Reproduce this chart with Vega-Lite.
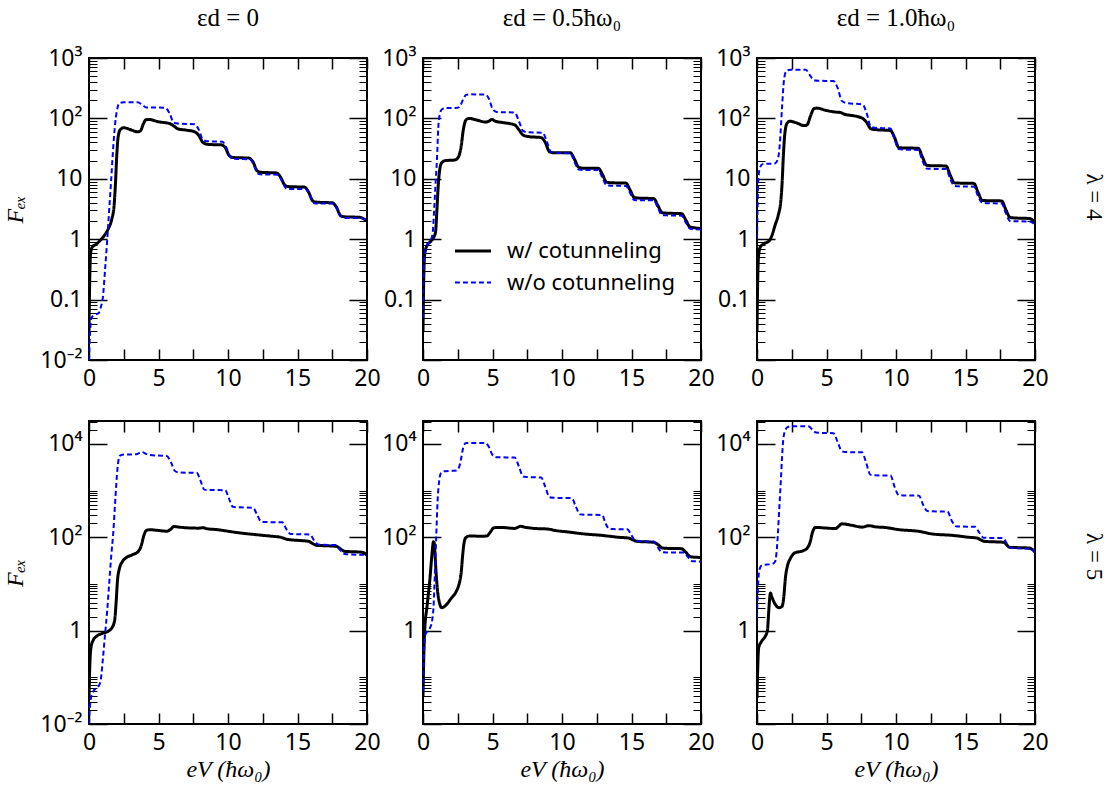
{
"$schema": "https://vega.github.io/schema/vega-lite/v6.json",
"padding": {"left": 2, "top": 5, "right": 5, "bottom": 5},
"background": "white",
"config": {
  "view": {"stroke": "black", "strokeWidth": 2},
  "axis": {"grid": false, "domain": false, "labelFont": "Noto Sans", "labelFontSize": 23, "labelColor": "black", "tickColor": "black", "titleColor": "black", "labelFlush": false, "labelOverlap": false, "labelBound": false, "titleFont": "Liberation Serif", "titleFontStyle": "italic", "titleFontWeight": "normal", "titleFontSize": 24},
  "title": {"font": "Liberation Serif", "fontSize": 25, "fontWeight": "normal", "color": "black"}
},
"datasets": {"d": [
{"p":"a","s":"w","x":0,"y":0.03},{"p":"a","s":"w","x":0.05,"y":0.2},{"p":"a","s":"w","x":0.12,"y":0.6},{"p":"a","s":"w","x":0.25,"y":0.75},{"p":"a","s":"w","x":0.5,"y":0.82},{"p":"a","s":"w","x":0.8,"y":0.95},{"p":"a","s":"w","x":1.1,"y":1.15},{"p":"a","s":"w","x":1.4,"y":1.5},{"p":"a","s":"w","x":1.65,"y":2.2},{"p":"a","s":"w","x":1.8,"y":3.5},{"p":"a","s":"w","x":1.9,"y":8},{"p":"a","s":"w","x":2.0,"y":25},{"p":"a","s":"w","x":2.1,"y":50},{"p":"a","s":"w","x":2.25,"y":65},{"p":"a","s":"w","x":2.5,"y":70},{"p":"a","s":"w","x":3.0,"y":65},{"p":"a","s":"w","x":3.5,"y":60},{"p":"a","s":"w","x":3.7,"y":62},{"p":"a","s":"w","x":3.9,"y":80},{"p":"a","s":"w","x":4.1,"y":95},{"p":"a","s":"w","x":4.3,"y":96},{"p":"a","s":"w","x":5.0,"y":88},{"p":"a","s":"w","x":5.8,"y":82},{"p":"a","s":"w","x":6.1,"y":75},{"p":"a","s":"w","x":6.4,"y":67},{"p":"a","s":"w","x":7.0,"y":64},{"p":"a","s":"w","x":7.6,"y":60},{"p":"a","s":"w","x":7.9,"y":52},{"p":"a","s":"w","x":8.2,"y":40},{"p":"a","s":"w","x":8.6,"y":37},{"p":"a","s":"w","x":9.5,"y":36.5},{"p":"a","s":"w","x":9.8,"y":33},{"p":"a","s":"w","x":10.1,"y":24},{"p":"a","s":"w","x":10.4,"y":22.5},{"p":"a","s":"w","x":11.5,"y":22},{"p":"a","s":"w","x":11.8,"y":19},{"p":"a","s":"w","x":12.1,"y":13.5},{"p":"a","s":"w","x":12.4,"y":12.8},{"p":"a","s":"w","x":13.5,"y":12.5},{"p":"a","s":"w","x":13.8,"y":10.5},{"p":"a","s":"w","x":14.1,"y":7.8},{"p":"a","s":"w","x":14.4,"y":7.4},{"p":"a","s":"w","x":15.5,"y":7.3},{"p":"a","s":"w","x":15.8,"y":6},{"p":"a","s":"w","x":16.1,"y":4.3},{"p":"a","s":"w","x":16.4,"y":4.1},{"p":"a","s":"w","x":17.5,"y":4.0},{"p":"a","s":"w","x":17.8,"y":3.4},{"p":"a","s":"w","x":18.1,"y":2.45},{"p":"a","s":"w","x":18.4,"y":2.35},{"p":"a","s":"w","x":19.5,"y":2.3},{"p":"a","s":"w","x":19.8,"y":2.15},{"p":"a","s":"w","x":20,"y":2.0},
{"p":"a","s":"wo","x":0,"y":0.01},{"p":"a","s":"wo","x":0.08,"y":0.03},{"p":"a","s":"wo","x":0.18,"y":0.05},{"p":"a","s":"wo","x":0.4,"y":0.056},{"p":"a","s":"wo","x":0.7,"y":0.06},{"p":"a","s":"wo","x":0.85,"y":0.075},{"p":"a","s":"wo","x":1.0,"y":0.11},{"p":"a","s":"wo","x":1.15,"y":0.3},{"p":"a","s":"wo","x":1.3,"y":0.9},{"p":"a","s":"wo","x":1.45,"y":3},{"p":"a","s":"wo","x":1.6,"y":10},{"p":"a","s":"wo","x":1.75,"y":35},{"p":"a","s":"wo","x":1.9,"y":90},{"p":"a","s":"wo","x":2.05,"y":150},{"p":"a","s":"wo","x":2.2,"y":180},{"p":"a","s":"wo","x":2.5,"y":185},{"p":"a","s":"wo","x":3.5,"y":185},{"p":"a","s":"wo","x":3.8,"y":170},{"p":"a","s":"wo","x":4.1,"y":152},{"p":"a","s":"wo","x":5.5,"y":150},{"p":"a","s":"wo","x":5.8,"y":120},{"p":"a","s":"wo","x":6.1,"y":85},{"p":"a","s":"wo","x":6.4,"y":82},{"p":"a","s":"wo","x":7.6,"y":80},{"p":"a","s":"wo","x":7.9,"y":65},{"p":"a","s":"wo","x":8.2,"y":44},{"p":"a","s":"wo","x":8.5,"y":42},{"p":"a","s":"wo","x":9.6,"y":41},{"p":"a","s":"wo","x":9.9,"y":32},{"p":"a","s":"wo","x":10.2,"y":22.5},{"p":"a","s":"wo","x":10.5,"y":21.5},{"p":"a","s":"wo","x":11.6,"y":21},{"p":"a","s":"wo","x":11.9,"y":16},{"p":"a","s":"wo","x":12.2,"y":12},{"p":"a","s":"wo","x":12.5,"y":11.8},{"p":"a","s":"wo","x":13.6,"y":11.7},{"p":"a","s":"wo","x":13.9,"y":9},{"p":"a","s":"wo","x":14.2,"y":6.9},{"p":"a","s":"wo","x":14.5,"y":6.8},{"p":"a","s":"wo","x":15.6,"y":6.8},{"p":"a","s":"wo","x":15.9,"y":5.3},{"p":"a","s":"wo","x":16.2,"y":3.95},{"p":"a","s":"wo","x":16.5,"y":3.9},{"p":"a","s":"wo","x":17.6,"y":3.9},{"p":"a","s":"wo","x":17.9,"y":3.0},{"p":"a","s":"wo","x":18.2,"y":2.3},{"p":"a","s":"wo","x":18.5,"y":2.25},{"p":"a","s":"wo","x":19.6,"y":2.25},{"p":"a","s":"wo","x":19.8,"y":2.15},{"p":"a","s":"wo","x":20,"y":2.05},
{"p":"b","s":"w","x":0,"y":0.03},{"p":"b","s":"w","x":0.05,"y":0.2},{"p":"b","s":"w","x":0.12,"y":0.55},{"p":"b","s":"w","x":0.25,"y":0.75},{"p":"b","s":"w","x":0.5,"y":0.9},{"p":"b","s":"w","x":0.75,"y":1.05},{"p":"b","s":"w","x":0.9,"y":1.3},{"p":"b","s":"w","x":1.0,"y":3},{"p":"b","s":"w","x":1.1,"y":8},{"p":"b","s":"w","x":1.2,"y":14},{"p":"b","s":"w","x":1.35,"y":18.5},{"p":"b","s":"w","x":1.6,"y":20},{"p":"b","s":"w","x":2.3,"y":20.5},{"p":"b","s":"w","x":2.55,"y":23},{"p":"b","s":"w","x":2.75,"y":35},{"p":"b","s":"w","x":2.9,"y":65},{"p":"b","s":"w","x":3.1,"y":95},{"p":"b","s":"w","x":3.3,"y":100},{"p":"b","s":"w","x":3.8,"y":95},{"p":"b","s":"w","x":4.5,"y":87},{"p":"b","s":"w","x":4.75,"y":90},{"p":"b","s":"w","x":4.95,"y":96},{"p":"b","s":"w","x":5.2,"y":90},{"p":"b","s":"w","x":5.8,"y":85},{"p":"b","s":"w","x":6.6,"y":78},{"p":"b","s":"w","x":6.9,"y":65},{"p":"b","s":"w","x":7.2,"y":53},{"p":"b","s":"w","x":7.6,"y":50},{"p":"b","s":"w","x":8.5,"y":48},{"p":"b","s":"w","x":8.8,"y":40},{"p":"b","s":"w","x":9.1,"y":28},{"p":"b","s":"w","x":9.4,"y":27},{"p":"b","s":"w","x":10.6,"y":27},{"p":"b","s":"w","x":10.9,"y":21},{"p":"b","s":"w","x":11.2,"y":15.5},{"p":"b","s":"w","x":11.5,"y":15},{"p":"b","s":"w","x":12.6,"y":15},{"p":"b","s":"w","x":12.9,"y":12},{"p":"b","s":"w","x":13.2,"y":8.8},{"p":"b","s":"w","x":13.5,"y":8.6},{"p":"b","s":"w","x":14.6,"y":8.5},{"p":"b","s":"w","x":14.9,"y":6.5},{"p":"b","s":"w","x":15.2,"y":4.9},{"p":"b","s":"w","x":15.5,"y":4.8},{"p":"b","s":"w","x":16.6,"y":4.7},{"p":"b","s":"w","x":16.9,"y":3.6},{"p":"b","s":"w","x":17.2,"y":2.75},{"p":"b","s":"w","x":17.5,"y":2.7},{"p":"b","s":"w","x":18.6,"y":2.65},{"p":"b","s":"w","x":18.9,"y":2.1},{"p":"b","s":"w","x":19.2,"y":1.6},{"p":"b","s":"w","x":19.5,"y":1.55},{"p":"b","s":"w","x":20,"y":1.5},
{"p":"b","s":"wo","x":0,"y":0.05},{"p":"b","s":"wo","x":0.05,"y":0.3},{"p":"b","s":"wo","x":0.15,"y":0.6},{"p":"b","s":"wo","x":0.3,"y":0.8},{"p":"b","s":"wo","x":0.55,"y":0.95},{"p":"b","s":"wo","x":0.7,"y":1.3},{"p":"b","s":"wo","x":0.8,"y":3},{"p":"b","s":"wo","x":0.9,"y":8},{"p":"b","s":"wo","x":1.0,"y":20},{"p":"b","s":"wo","x":1.1,"y":70},{"p":"b","s":"wo","x":1.2,"y":115},{"p":"b","s":"wo","x":1.35,"y":140},{"p":"b","s":"wo","x":1.6,"y":148},{"p":"b","s":"wo","x":2.5,"y":150},{"p":"b","s":"wo","x":2.7,"y":165},{"p":"b","s":"wo","x":2.9,"y":210},{"p":"b","s":"wo","x":3.1,"y":245},{"p":"b","s":"wo","x":3.3,"y":250},{"p":"b","s":"wo","x":4.5,"y":248},{"p":"b","s":"wo","x":4.75,"y":210},{"p":"b","s":"wo","x":5.0,"y":145},{"p":"b","s":"wo","x":5.3,"y":128},{"p":"b","s":"wo","x":6.6,"y":125},{"p":"b","s":"wo","x":6.9,"y":90},{"p":"b","s":"wo","x":7.2,"y":62},{"p":"b","s":"wo","x":7.5,"y":59},{"p":"b","s":"wo","x":8.6,"y":58},{"p":"b","s":"wo","x":8.9,"y":42},{"p":"b","s":"wo","x":9.2,"y":28},{"p":"b","s":"wo","x":9.5,"y":27},{"p":"b","s":"wo","x":10.6,"y":26.5},{"p":"b","s":"wo","x":10.9,"y":19},{"p":"b","s":"wo","x":11.2,"y":14.2},{"p":"b","s":"wo","x":11.5,"y":14},{"p":"b","s":"wo","x":12.6,"y":14},{"p":"b","s":"wo","x":12.9,"y":10.5},{"p":"b","s":"wo","x":13.2,"y":7.8},{"p":"b","s":"wo","x":13.5,"y":7.7},{"p":"b","s":"wo","x":14.6,"y":7.6},{"p":"b","s":"wo","x":14.9,"y":5.8},{"p":"b","s":"wo","x":15.2,"y":4.45},{"p":"b","s":"wo","x":15.5,"y":4.4},{"p":"b","s":"wo","x":16.6,"y":4.4},{"p":"b","s":"wo","x":16.9,"y":3.3},{"p":"b","s":"wo","x":17.2,"y":2.5},{"p":"b","s":"wo","x":17.5,"y":2.48},{"p":"b","s":"wo","x":18.6,"y":2.45},{"p":"b","s":"wo","x":18.9,"y":1.9},{"p":"b","s":"wo","x":19.2,"y":1.5},{"p":"b","s":"wo","x":19.5,"y":1.46},{"p":"b","s":"wo","x":20,"y":1.45},
{"p":"c","s":"w","x":0,"y":0.03},{"p":"c","s":"w","x":0.05,"y":0.2},{"p":"c","s":"w","x":0.12,"y":0.55},{"p":"c","s":"w","x":0.25,"y":0.75},{"p":"c","s":"w","x":0.55,"y":0.85},{"p":"c","s":"w","x":0.9,"y":0.95},{"p":"c","s":"w","x":1.1,"y":1.2},{"p":"c","s":"w","x":1.3,"y":1.7},{"p":"c","s":"w","x":1.55,"y":2.6},{"p":"c","s":"w","x":1.7,"y":4},{"p":"c","s":"w","x":1.8,"y":8},{"p":"c","s":"w","x":1.9,"y":25},{"p":"c","s":"w","x":2.0,"y":55},{"p":"c","s":"w","x":2.15,"y":82},{"p":"c","s":"w","x":2.35,"y":90},{"p":"c","s":"w","x":2.8,"y":85},{"p":"c","s":"w","x":3.4,"y":76},{"p":"c","s":"w","x":3.6,"y":78},{"p":"c","s":"w","x":3.85,"y":110},{"p":"c","s":"w","x":4.1,"y":145},{"p":"c","s":"w","x":4.3,"y":148},{"p":"c","s":"w","x":5.0,"y":135},{"p":"c","s":"w","x":5.7,"y":127},{"p":"c","s":"w","x":6.0,"y":125},{"p":"c","s":"w","x":6.3,"y":117},{"p":"c","s":"w","x":7.0,"y":110},{"p":"c","s":"w","x":7.6,"y":100},{"p":"c","s":"w","x":7.9,"y":85},{"p":"c","s":"w","x":8.2,"y":67},{"p":"c","s":"w","x":8.6,"y":65},{"p":"c","s":"w","x":9.6,"y":63},{"p":"c","s":"w","x":9.9,"y":48},{"p":"c","s":"w","x":10.2,"y":33},{"p":"c","s":"w","x":10.5,"y":32.5},{"p":"c","s":"w","x":11.6,"y":32},{"p":"c","s":"w","x":11.9,"y":23},{"p":"c","s":"w","x":12.2,"y":16.8},{"p":"c","s":"w","x":12.5,"y":16.5},{"p":"c","s":"w","x":13.6,"y":16.3},{"p":"c","s":"w","x":13.9,"y":11.5},{"p":"c","s":"w","x":14.2,"y":8.6},{"p":"c","s":"w","x":14.5,"y":8.5},{"p":"c","s":"w","x":15.6,"y":8.4},{"p":"c","s":"w","x":15.9,"y":6},{"p":"c","s":"w","x":16.2,"y":4.4},{"p":"c","s":"w","x":16.5,"y":4.35},{"p":"c","s":"w","x":17.6,"y":4.3},{"p":"c","s":"w","x":17.9,"y":3.1},{"p":"c","s":"w","x":18.2,"y":2.3},{"p":"c","s":"w","x":18.5,"y":2.25},{"p":"c","s":"w","x":19.6,"y":2.2},{"p":"c","s":"w","x":19.85,"y":2.05},{"p":"c","s":"w","x":20,"y":1.85},
{"p":"c","s":"wo","x":0,"y":1.0},{"p":"c","s":"wo","x":0.04,"y":3},{"p":"c","s":"wo","x":0.1,"y":10},{"p":"c","s":"wo","x":0.2,"y":15},{"p":"c","s":"wo","x":0.4,"y":17.5},{"p":"c","s":"wo","x":1.3,"y":18},{"p":"c","s":"wo","x":1.5,"y":21},{"p":"c","s":"wo","x":1.65,"y":40},{"p":"c","s":"wo","x":1.8,"y":150},{"p":"c","s":"wo","x":1.95,"y":450},{"p":"c","s":"wo","x":2.1,"y":600},{"p":"c","s":"wo","x":2.4,"y":640},{"p":"c","s":"wo","x":3.5,"y":640},{"p":"c","s":"wo","x":3.8,"y":520},{"p":"c","s":"wo","x":4.1,"y":430},{"p":"c","s":"wo","x":4.4,"y":420},{"p":"c","s":"wo","x":5.5,"y":415},{"p":"c","s":"wo","x":5.8,"y":320},{"p":"c","s":"wo","x":6.1,"y":195},{"p":"c","s":"wo","x":6.4,"y":180},{"p":"c","s":"wo","x":7.6,"y":170},{"p":"c","s":"wo","x":7.9,"y":120},{"p":"c","s":"wo","x":8.2,"y":72},{"p":"c","s":"wo","x":8.5,"y":70},{"p":"c","s":"wo","x":9.6,"y":68},{"p":"c","s":"wo","x":9.9,"y":45},{"p":"c","s":"wo","x":10.2,"y":31},{"p":"c","s":"wo","x":10.5,"y":30.5},{"p":"c","s":"wo","x":11.6,"y":30},{"p":"c","s":"wo","x":11.9,"y":20},{"p":"c","s":"wo","x":12.2,"y":14.8},{"p":"c","s":"wo","x":12.5,"y":14.6},{"p":"c","s":"wo","x":13.6,"y":14.5},{"p":"c","s":"wo","x":13.9,"y":10},{"p":"c","s":"wo","x":14.2,"y":7.6},{"p":"c","s":"wo","x":14.5,"y":7.5},{"p":"c","s":"wo","x":15.6,"y":7.4},{"p":"c","s":"wo","x":15.9,"y":5.2},{"p":"c","s":"wo","x":16.2,"y":4.0},{"p":"c","s":"wo","x":16.5,"y":3.95},{"p":"c","s":"wo","x":17.6,"y":3.9},{"p":"c","s":"wo","x":17.9,"y":2.7},{"p":"c","s":"wo","x":18.2,"y":2.0},{"p":"c","s":"wo","x":18.5,"y":1.98},{"p":"c","s":"wo","x":19.6,"y":1.97},{"p":"c","s":"wo","x":19.85,"y":1.85},{"p":"c","s":"wo","x":20,"y":1.7},
{"p":"d","s":"w","x":0,"y":0.036},{"p":"d","s":"w","x":0.05,"y":0.15},{"p":"d","s":"w","x":0.15,"y":0.45},{"p":"d","s":"w","x":0.3,"y":0.62},{"p":"d","s":"w","x":0.55,"y":0.76},{"p":"d","s":"w","x":1.0,"y":0.88},{"p":"d","s":"w","x":1.4,"y":0.98},{"p":"d","s":"w","x":1.65,"y":1.15},{"p":"d","s":"w","x":1.85,"y":1.7},{"p":"d","s":"w","x":1.95,"y":4},{"p":"d","s":"w","x":2.05,"y":12},{"p":"d","s":"w","x":2.2,"y":22},{"p":"d","s":"w","x":2.4,"y":30},{"p":"d","s":"w","x":2.7,"y":37},{"p":"d","s":"w","x":3.1,"y":42},{"p":"d","s":"w","x":3.55,"y":50},{"p":"d","s":"w","x":3.75,"y":65},{"p":"d","s":"w","x":3.95,"y":110},{"p":"d","s":"w","x":4.15,"y":142},{"p":"d","s":"w","x":4.4,"y":145},{"p":"d","s":"w","x":5.0,"y":140},{"p":"d","s":"w","x":5.6,"y":135},{"p":"d","s":"w","x":5.9,"y":150},{"p":"d","s":"w","x":6.1,"y":170},{"p":"d","s":"w","x":6.5,"y":165},{"p":"d","s":"w","x":7.0,"y":160},{"p":"d","s":"w","x":7.9,"y":157},{"p":"d","s":"w","x":8.2,"y":160},{"p":"d","s":"w","x":8.5,"y":152},{"p":"d","s":"w","x":9.1,"y":147},{"p":"d","s":"w","x":10.0,"y":135},{"p":"d","s":"w","x":10.5,"y":128},{"p":"d","s":"w","x":11.5,"y":118},{"p":"d","s":"w","x":12.0,"y":114},{"p":"d","s":"w","x":12.5,"y":110},{"p":"d","s":"w","x":13.2,"y":105},{"p":"d","s":"w","x":13.8,"y":100},{"p":"d","s":"w","x":14.3,"y":90},{"p":"d","s":"w","x":15.0,"y":86},{"p":"d","s":"w","x":15.8,"y":82},{"p":"d","s":"w","x":16.1,"y":73},{"p":"d","s":"w","x":16.4,"y":67},{"p":"d","s":"w","x":17.0,"y":66},{"p":"d","s":"w","x":17.8,"y":64},{"p":"d","s":"w","x":18.1,"y":56},{"p":"d","s":"w","x":18.4,"y":50},{"p":"d","s":"w","x":19.0,"y":49},{"p":"d","s":"w","x":19.6,"y":48},{"p":"d","s":"w","x":19.85,"y":45},{"p":"d","s":"w","x":20,"y":41},
{"p":"d","s":"wo","x":0,"y":0.01},{"p":"d","s":"wo","x":0.1,"y":0.03},{"p":"d","s":"wo","x":0.3,"y":0.05},{"p":"d","s":"wo","x":0.7,"y":0.065},{"p":"d","s":"wo","x":0.85,"y":0.09},{"p":"d","s":"wo","x":1.0,"y":0.25},{"p":"d","s":"wo","x":1.15,"y":0.8},{"p":"d","s":"wo","x":1.3,"y":2.5},{"p":"d","s":"wo","x":1.45,"y":10},{"p":"d","s":"wo","x":1.6,"y":40},{"p":"d","s":"wo","x":1.75,"y":130},{"p":"d","s":"wo","x":1.9,"y":700},{"p":"d","s":"wo","x":2.05,"y":3000},{"p":"d","s":"wo","x":2.2,"y":5500},{"p":"d","s":"wo","x":2.4,"y":5900},{"p":"d","s":"wo","x":3.4,"y":6000},{"p":"d","s":"wo","x":3.8,"y":6700},{"p":"d","s":"wo","x":4.3,"y":5800},{"p":"d","s":"wo","x":5.6,"y":5500},{"p":"d","s":"wo","x":5.9,"y":4000},{"p":"d","s":"wo","x":6.2,"y":2600},{"p":"d","s":"wo","x":6.5,"y":2450},{"p":"d","s":"wo","x":7.75,"y":2400},{"p":"d","s":"wo","x":8.0,"y":1700},{"p":"d","s":"wo","x":8.3,"y":1050},{"p":"d","s":"wo","x":8.6,"y":1030},{"p":"d","s":"wo","x":9.8,"y":1020},{"p":"d","s":"wo","x":10.05,"y":700},{"p":"d","s":"wo","x":10.35,"y":450},{"p":"d","s":"wo","x":10.6,"y":440},{"p":"d","s":"wo","x":11.8,"y":430},{"p":"d","s":"wo","x":12.1,"y":300},{"p":"d","s":"wo","x":12.4,"y":215},{"p":"d","s":"wo","x":12.7,"y":212},{"p":"d","s":"wo","x":13.9,"y":210},{"p":"d","s":"wo","x":14.2,"y":150},{"p":"d","s":"wo","x":14.5,"y":118},{"p":"d","s":"wo","x":14.8,"y":117},{"p":"d","s":"wo","x":15.9,"y":115},{"p":"d","s":"wo","x":16.2,"y":85},{"p":"d","s":"wo","x":16.5,"y":70},{"p":"d","s":"wo","x":16.8,"y":69},{"p":"d","s":"wo","x":17.8,"y":68},{"p":"d","s":"wo","x":18.1,"y":52},{"p":"d","s":"wo","x":18.4,"y":44},{"p":"d","s":"wo","x":18.7,"y":43},{"p":"d","s":"wo","x":19.8,"y":42},{"p":"d","s":"wo","x":20,"y":39},
{"p":"e","s":"w","x":0,"y":0.04},{"p":"e","s":"w","x":0.06,"y":0.3},{"p":"e","s":"w","x":0.12,"y":1.0},{"p":"e","s":"w","x":0.3,"y":3.5},{"p":"e","s":"w","x":0.5,"y":13},{"p":"e","s":"w","x":0.65,"y":45},{"p":"e","s":"w","x":0.75,"y":80},{"p":"e","s":"w","x":0.8,"y":78},{"p":"e","s":"w","x":0.86,"y":45},{"p":"e","s":"w","x":0.93,"y":20},{"p":"e","s":"w","x":1.05,"y":7},{"p":"e","s":"w","x":1.2,"y":3.8},{"p":"e","s":"w","x":1.35,"y":3.1},{"p":"e","s":"w","x":1.6,"y":3.4},{"p":"e","s":"w","x":2.0,"y":4.8},{"p":"e","s":"w","x":2.4,"y":7},{"p":"e","s":"w","x":2.6,"y":10},{"p":"e","s":"w","x":2.75,"y":18},{"p":"e","s":"w","x":2.85,"y":40},{"p":"e","s":"w","x":2.95,"y":75},{"p":"e","s":"w","x":3.1,"y":100},{"p":"e","s":"w","x":3.4,"y":107},{"p":"e","s":"w","x":4.2,"y":105},{"p":"e","s":"w","x":4.6,"y":107},{"p":"e","s":"w","x":4.85,"y":130},{"p":"e","s":"w","x":5.1,"y":160},{"p":"e","s":"w","x":5.6,"y":163},{"p":"e","s":"w","x":6.6,"y":155},{"p":"e","s":"w","x":6.85,"y":165},{"p":"e","s":"w","x":7.0,"y":172},{"p":"e","s":"w","x":7.3,"y":165},{"p":"e","s":"w","x":8.0,"y":155},{"p":"e","s":"w","x":9.0,"y":150},{"p":"e","s":"w","x":9.5,"y":140},{"p":"e","s":"w","x":10.45,"y":130},{"p":"e","s":"w","x":11.6,"y":118},{"p":"e","s":"w","x":12.85,"y":110},{"p":"e","s":"w","x":14.1,"y":100},{"p":"e","s":"w","x":14.8,"y":96},{"p":"e","s":"w","x":15.1,"y":88},{"p":"e","s":"w","x":15.4,"y":82},{"p":"e","s":"w","x":16.6,"y":78},{"p":"e","s":"w","x":16.9,"y":70},{"p":"e","s":"w","x":17.2,"y":59},{"p":"e","s":"w","x":17.5,"y":58},{"p":"e","s":"w","x":18.6,"y":57},{"p":"e","s":"w","x":18.9,"y":48},{"p":"e","s":"w","x":19.2,"y":39},{"p":"e","s":"w","x":19.5,"y":37.5},{"p":"e","s":"w","x":20,"y":37},
{"p":"e","s":"wo","x":0,"y":0.05},{"p":"e","s":"wo","x":0.08,"y":0.4},{"p":"e","s":"wo","x":0.17,"y":0.82},{"p":"e","s":"wo","x":0.35,"y":1.0},{"p":"e","s":"wo","x":0.5,"y":1.14},{"p":"e","s":"wo","x":0.65,"y":1.6},{"p":"e","s":"wo","x":0.75,"y":3},{"p":"e","s":"wo","x":0.85,"y":15},{"p":"e","s":"wo","x":0.95,"y":100},{"p":"e","s":"wo","x":1.05,"y":600},{"p":"e","s":"wo","x":1.15,"y":1500},{"p":"e","s":"wo","x":1.3,"y":2400},{"p":"e","s":"wo","x":1.5,"y":2600},{"p":"e","s":"wo","x":2.4,"y":2700},{"p":"e","s":"wo","x":2.6,"y":3200},{"p":"e","s":"wo","x":2.75,"y":5000},{"p":"e","s":"wo","x":2.9,"y":8500},{"p":"e","s":"wo","x":3.1,"y":10500},{"p":"e","s":"wo","x":4.5,"y":10500},{"p":"e","s":"wo","x":4.75,"y":8500},{"p":"e","s":"wo","x":5.0,"y":5800},{"p":"e","s":"wo","x":5.3,"y":5200},{"p":"e","s":"wo","x":6.6,"y":5100},{"p":"e","s":"wo","x":6.9,"y":3300},{"p":"e","s":"wo","x":7.2,"y":2000},{"p":"e","s":"wo","x":7.5,"y":1950},{"p":"e","s":"wo","x":8.5,"y":1900},{"p":"e","s":"wo","x":8.8,"y":1200},{"p":"e","s":"wo","x":9.1,"y":720},{"p":"e","s":"wo","x":9.4,"y":700},{"p":"e","s":"wo","x":10.7,"y":690},{"p":"e","s":"wo","x":11.0,"y":450},{"p":"e","s":"wo","x":11.3,"y":310},{"p":"e","s":"wo","x":11.6,"y":305},{"p":"e","s":"wo","x":12.9,"y":300},{"p":"e","s":"wo","x":13.1,"y":210},{"p":"e","s":"wo","x":13.4,"y":152},{"p":"e","s":"wo","x":13.7,"y":150},{"p":"e","s":"wo","x":14.7,"y":148},{"p":"e","s":"wo","x":15.0,"y":110},{"p":"e","s":"wo","x":15.3,"y":83},{"p":"e","s":"wo","x":15.6,"y":82},{"p":"e","s":"wo","x":16.6,"y":81},{"p":"e","s":"wo","x":16.9,"y":60},{"p":"e","s":"wo","x":17.2,"y":48},{"p":"e","s":"wo","x":17.5,"y":47.5},{"p":"e","s":"wo","x":18.8,"y":47},{"p":"e","s":"wo","x":19.05,"y":38},{"p":"e","s":"wo","x":19.3,"y":31},{"p":"e","s":"wo","x":19.6,"y":30.5},{"p":"e","s":"wo","x":20,"y":30},
{"p":"f","s":"w","x":0,"y":0.036},{"p":"f","s":"w","x":0.05,"y":0.15},{"p":"f","s":"w","x":0.12,"y":0.43},{"p":"f","s":"w","x":0.35,"y":0.6},{"p":"f","s":"w","x":0.6,"y":0.76},{"p":"f","s":"w","x":0.75,"y":1.0},{"p":"f","s":"w","x":0.83,"y":2.2},{"p":"f","s":"w","x":0.9,"y":4.5},{"p":"f","s":"w","x":0.97,"y":6.4},{"p":"f","s":"w","x":1.05,"y":5.5},{"p":"f","s":"w","x":1.3,"y":3.7},{"p":"f","s":"w","x":1.6,"y":3.1},{"p":"f","s":"w","x":1.8,"y":3.3},{"p":"f","s":"w","x":1.92,"y":5},{"p":"f","s":"w","x":2.05,"y":14},{"p":"f","s":"w","x":2.2,"y":25},{"p":"f","s":"w","x":2.4,"y":35},{"p":"f","s":"w","x":2.7,"y":46},{"p":"f","s":"w","x":3.35,"y":52},{"p":"f","s":"w","x":3.6,"y":58},{"p":"f","s":"w","x":3.8,"y":75},{"p":"f","s":"w","x":4.0,"y":130},{"p":"f","s":"w","x":4.2,"y":163},{"p":"f","s":"w","x":4.9,"y":158},{"p":"f","s":"w","x":5.65,"y":154},{"p":"f","s":"w","x":5.9,"y":175},{"p":"f","s":"w","x":6.1,"y":194},{"p":"f","s":"w","x":6.85,"y":180},{"p":"f","s":"w","x":7.55,"y":165},{"p":"f","s":"w","x":8.05,"y":177},{"p":"f","s":"w","x":8.5,"y":168},{"p":"f","s":"w","x":9.25,"y":162},{"p":"f","s":"w","x":10.2,"y":146},{"p":"f","s":"w","x":11.65,"y":134},{"p":"f","s":"w","x":12.6,"y":118},{"p":"f","s":"w","x":14.05,"y":110},{"p":"f","s":"w","x":15.25,"y":100},{"p":"f","s":"w","x":15.85,"y":96},{"p":"f","s":"w","x":16.1,"y":88},{"p":"f","s":"w","x":16.35,"y":82},{"p":"f","s":"w","x":17.75,"y":78},{"p":"f","s":"w","x":17.95,"y":70},{"p":"f","s":"w","x":18.15,"y":61},{"p":"f","s":"w","x":19.55,"y":59},{"p":"f","s":"w","x":19.8,"y":55},{"p":"f","s":"w","x":20,"y":48},
{"p":"f","s":"wo","x":0,"y":1.9},{"p":"f","s":"wo","x":0.04,"y":5},{"p":"f","s":"wo","x":0.08,"y":10},{"p":"f","s":"wo","x":0.17,"y":20},{"p":"f","s":"wo","x":0.35,"y":25},{"p":"f","s":"wo","x":1.1,"y":27},{"p":"f","s":"wo","x":1.3,"y":30},{"p":"f","s":"wo","x":1.4,"y":45},{"p":"f","s":"wo","x":1.5,"y":114},{"p":"f","s":"wo","x":1.6,"y":400},{"p":"f","s":"wo","x":1.7,"y":1350},{"p":"f","s":"wo","x":1.8,"y":5000},{"p":"f","s":"wo","x":1.9,"y":13400},{"p":"f","s":"wo","x":2.05,"y":20000},{"p":"f","s":"wo","x":2.2,"y":23000},{"p":"f","s":"wo","x":2.5,"y":24000},{"p":"f","s":"wo","x":3.7,"y":23800},{"p":"f","s":"wo","x":4.0,"y":20000},{"p":"f","s":"wo","x":4.25,"y":17500},{"p":"f","s":"wo","x":4.5,"y":17300},{"p":"f","s":"wo","x":5.5,"y":17000},{"p":"f","s":"wo","x":5.8,"y":11000},{"p":"f","s":"wo","x":6.1,"y":7000},{"p":"f","s":"wo","x":6.35,"y":6700},{"p":"f","s":"wo","x":7.55,"y":6600},{"p":"f","s":"wo","x":7.85,"y":4000},{"p":"f","s":"wo","x":8.15,"y":2200},{"p":"f","s":"wo","x":8.45,"y":2130},{"p":"f","s":"wo","x":9.6,"y":2100},{"p":"f","s":"wo","x":9.9,"y":1200},{"p":"f","s":"wo","x":10.2,"y":800},{"p":"f","s":"wo","x":10.5,"y":790},{"p":"f","s":"wo","x":11.65,"y":780},{"p":"f","s":"wo","x":11.95,"y":500},{"p":"f","s":"wo","x":12.25,"y":365},{"p":"f","s":"wo","x":12.55,"y":360},{"p":"f","s":"wo","x":13.7,"y":355},{"p":"f","s":"wo","x":14.0,"y":230},{"p":"f","s":"wo","x":14.3,"y":172},{"p":"f","s":"wo","x":14.6,"y":170},{"p":"f","s":"wo","x":15.7,"y":168},{"p":"f","s":"wo","x":16.0,"y":125},{"p":"f","s":"wo","x":16.3,"y":98},{"p":"f","s":"wo","x":16.6,"y":97},{"p":"f","s":"wo","x":17.7,"y":96},{"p":"f","s":"wo","x":18.0,"y":72},{"p":"f","s":"wo","x":18.3,"y":59},{"p":"f","s":"wo","x":18.6,"y":58.5},{"p":"f","s":"wo","x":19.8,"y":56},{"p":"f","s":"wo","x":20,"y":47}
]},
"resolve": {"scale": {"color": "independent", "strokeDash": "independent", "strokeWidth": "independent"}},
"spacing": 28,
"bounds": "full",
"vconcat": [
{
 "title": {"text": "λ = 4", "orient": "right", "frame": "bounds", "anchor": "middle", "offset": 33, "fontSize": 23, "dx": -1},
 "spacing": 56, "bounds": "flush",
 "resolve": {"scale": {"color": "independent", "strokeDash": "independent", "strokeWidth": "independent"}},
 "hconcat": [
  {"width": 278, "height": 302, "title": {"text": "εd = 0", "frame": "group", "offset": 16},
   "data": {"name": "d"}, "transform": [{"filter": "datum.p == 'a'"}],
   "layer": [
    {"mark": {"type": "line", "interpolate": "monotone", "clip": true},
     "encoding": {
      "x": {"field": "x", "type": "quantitative", "scale": {"domain": [0, 20]}, "axis": {"orient": "bottom", "values": [0, 5, 10, 15, 20], "ticks": false, "labelPadding": 7, "title": null}},
      "y": {"field": "y", "type": "quantitative", "scale": {"type": "log", "domain": [0.01, 1000]}, "axis": {"orient": "left", "values": [0.01, 0.1, 1, 10, 100, 1000], "ticks": false, "labelPadding": 7, "labelExpr": "datum.value > 500 ? '10³' : datum.value > 50 ? '10²' : datum.value > 5 ? '10' : datum.value > 0.5 ? '1' : datum.value > 0.05 ? '0.1' : '10⁻²'", "title": "Fₑₓ", "titlePadding": 12}},
      "color": {"field": "s", "type": "nominal", "scale": {"domain": ["w", "wo"], "range": ["#000000", "#0000ff"]}, "legend": null},
      "strokeDash": {"field": "s", "type": "nominal", "scale": {"domain": ["w", "wo"], "range": [[1, 0], [5, 3]]}, "legend": null},
      "strokeWidth": {"field": "s", "type": "nominal", "scale": {"type": "ordinal", "domain": ["w", "wo"], "range": [3, 2]}, "legend": null}
     }},
    {"mark": {"type": "point", "opacity": 0},
     "encoding": {
      "x": {"field": "x", "type": "quantitative", "scale": {"domain": [0, 20]}, "axis": {"orient": "bottom", "values": [0, 2.5, 5, 7.5, 10, 12.5, 15, 17.5, 20], "labels": false, "tickSize": -11, "tickWidth": 1.5, "title": null}},
      "y": {"field": "y", "type": "quantitative", "scale": {"type": "log", "domain": [0.01, 1000]}, "axis": {"orient": "left", "values": [0.01, 0.1, 1, 10, 100, 1000], "labels": false, "tickSize": -18, "tickWidth": 1.5, "title": null}}
     }},
    {"mark": {"type": "point", "opacity": 0},
     "encoding": {
      "x": {"field": "x", "type": "quantitative", "scale": {"domain": [0, 20]}, "axis": {"orient": "top", "values": [0, 2.5, 5, 7.5, 10, 12.5, 15, 17.5, 20], "labels": false, "tickSize": -11, "tickWidth": 1.5, "title": null}},
      "y": {"field": "y", "type": "quantitative", "scale": {"type": "log", "domain": [0.01, 1000]}, "axis": {"orient": "right", "values": [0.01, 0.1, 1, 10, 100, 1000], "labels": false, "tickSize": -18, "tickWidth": 1.5, "title": null}}
     }},
    {"mark": {"type": "point", "opacity": 0},
     "encoding": {
      "x": {"field": "x", "type": "quantitative", "scale": {"domain": [0, 20]}, "axis": null},
      "y": {"field": "y", "type": "quantitative", "scale": {"type": "log", "domain": [0.01, 1000]}, "axis": {"orient": "left", "values": [0.02,0.03,0.04,0.05,0.06,0.07,0.08,0.09,0.2,0.3,0.4,0.5,0.6,0.7,0.8,0.9,2,3,4,5,6,7,8,9,20,30,40,50,60,70,80,90,200,300,400,500,600,700,800,900], "labels": false, "tickSize": -8, "tickWidth": 1, "title": null}}
     }},
    {"mark": {"type": "point", "opacity": 0},
     "encoding": {
      "x": {"field": "x", "type": "quantitative", "scale": {"domain": [0, 20]}, "axis": null},
      "y": {"field": "y", "type": "quantitative", "scale": {"type": "log", "domain": [0.01, 1000]}, "axis": {"orient": "right", "values": [0.02,0.03,0.04,0.05,0.06,0.07,0.08,0.09,0.2,0.3,0.4,0.5,0.6,0.7,0.8,0.9,2,3,4,5,6,7,8,9,20,30,40,50,60,70,80,90,200,300,400,500,600,700,800,900], "labels": false, "tickSize": -8, "tickWidth": 1, "title": null}}
     }}
   ],
   "resolve": {"axis": {"x": "independent", "y": "independent"}}
  },
  {"width": 278, "height": 302, "title": {"text": "εd = 0.5ħω₀", "frame": "group", "offset": 16},
   "data": {"name": "d"}, "transform": [{"filter": "datum.p == 'b'"}],
   "layer": [
    {"mark": {"type": "line", "interpolate": "monotone", "clip": true},
     "encoding": {
      "x": {"field": "x", "type": "quantitative", "scale": {"domain": [0, 20]}, "axis": {"orient": "bottom", "values": [0, 5, 10, 15, 20], "ticks": false, "labelPadding": 7, "title": null}},
      "y": {"field": "y", "type": "quantitative", "scale": {"type": "log", "domain": [0.01, 1000]}, "axis": {"orient": "left", "values": [0.1, 1, 10, 100, 1000], "ticks": false, "labelPadding": 7, "labelExpr": "datum.value > 500 ? '10³' : datum.value > 50 ? '10²' : datum.value > 5 ? '10' : datum.value > 0.5 ? '1' : datum.value > 0.05 ? '0.1' : '10⁻²'", "title": null}},
      "color": {"field": "s", "type": "nominal", "scale": {"domain": ["w", "wo"], "range": ["#000000", "#0000ff"]}, "legend": {"orient": "none", "legendX": 30, "legendY": 173, "title": null, "symbolType": "stroke", "symbolSize": 1300, "labelFont": "Noto Sans", "labelFontSize": 22, "labelColor": "black", "labelOffset": 14, "labelLimit": 400, "rowPadding": 1, "padding": 0, "labelExpr": "datum.value == 'w' ? 'w/ cotunneling' : 'w/o cotunneling'"}},
      "strokeDash": {"field": "s", "type": "nominal", "scale": {"domain": ["w", "wo"], "range": [[1, 0], [5, 3]]}},
      "strokeWidth": {"field": "s", "type": "nominal", "scale": {"type": "ordinal", "domain": ["w", "wo"], "range": [3, 2]}}
     }},
    {"mark": {"type": "point", "opacity": 0},
     "encoding": {
      "x": {"field": "x", "type": "quantitative", "scale": {"domain": [0, 20]}, "axis": {"orient": "bottom", "values": [0, 2.5, 5, 7.5, 10, 12.5, 15, 17.5, 20], "labels": false, "tickSize": -11, "tickWidth": 1.5, "title": null}},
      "y": {"field": "y", "type": "quantitative", "scale": {"type": "log", "domain": [0.01, 1000]}, "axis": {"orient": "left", "values": [0.01, 0.1, 1, 10, 100, 1000], "labels": false, "tickSize": -18, "tickWidth": 1.5, "title": null}}
     }},
    {"mark": {"type": "point", "opacity": 0},
     "encoding": {
      "x": {"field": "x", "type": "quantitative", "scale": {"domain": [0, 20]}, "axis": {"orient": "top", "values": [0, 2.5, 5, 7.5, 10, 12.5, 15, 17.5, 20], "labels": false, "tickSize": -11, "tickWidth": 1.5, "title": null}},
      "y": {"field": "y", "type": "quantitative", "scale": {"type": "log", "domain": [0.01, 1000]}, "axis": {"orient": "right", "values": [0.01, 0.1, 1, 10, 100, 1000], "labels": false, "tickSize": -18, "tickWidth": 1.5, "title": null}}
     }},
    {"mark": {"type": "point", "opacity": 0},
     "encoding": {
      "x": {"field": "x", "type": "quantitative", "scale": {"domain": [0, 20]}, "axis": null},
      "y": {"field": "y", "type": "quantitative", "scale": {"type": "log", "domain": [0.01, 1000]}, "axis": {"orient": "left", "values": [0.02,0.03,0.04,0.05,0.06,0.07,0.08,0.09,0.2,0.3,0.4,0.5,0.6,0.7,0.8,0.9,2,3,4,5,6,7,8,9,20,30,40,50,60,70,80,90,200,300,400,500,600,700,800,900], "labels": false, "tickSize": -8, "tickWidth": 1, "title": null}}
     }},
    {"mark": {"type": "point", "opacity": 0},
     "encoding": {
      "x": {"field": "x", "type": "quantitative", "scale": {"domain": [0, 20]}, "axis": null},
      "y": {"field": "y", "type": "quantitative", "scale": {"type": "log", "domain": [0.01, 1000]}, "axis": {"orient": "right", "values": [0.02,0.03,0.04,0.05,0.06,0.07,0.08,0.09,0.2,0.3,0.4,0.5,0.6,0.7,0.8,0.9,2,3,4,5,6,7,8,9,20,30,40,50,60,70,80,90,200,300,400,500,600,700,800,900], "labels": false, "tickSize": -8, "tickWidth": 1, "title": null}}
     }}
   ],
   "resolve": {"axis": {"x": "independent", "y": "independent"}}
  },
  {"width": 278, "height": 302, "title": {"text": "εd = 1.0ħω₀", "frame": "group", "offset": 16},
   "data": {"name": "d"}, "transform": [{"filter": "datum.p == 'c'"}],
   "layer": [
    {"mark": {"type": "line", "interpolate": "monotone", "clip": true},
     "encoding": {
      "x": {"field": "x", "type": "quantitative", "scale": {"domain": [0, 20]}, "axis": {"orient": "bottom", "values": [0, 5, 10, 15, 20], "ticks": false, "labelPadding": 7, "title": null}},
      "y": {"field": "y", "type": "quantitative", "scale": {"type": "log", "domain": [0.01, 1000]}, "axis": {"orient": "left", "values": [0.1, 1, 10, 100, 1000], "ticks": false, "labelPadding": 7, "labelExpr": "datum.value > 500 ? '10³' : datum.value > 50 ? '10²' : datum.value > 5 ? '10' : datum.value > 0.5 ? '1' : datum.value > 0.05 ? '0.1' : '10⁻²'", "title": null}},
      "color": {"field": "s", "type": "nominal", "scale": {"domain": ["w", "wo"], "range": ["#000000", "#0000ff"]}, "legend": null},
      "strokeDash": {"field": "s", "type": "nominal", "scale": {"domain": ["w", "wo"], "range": [[1, 0], [5, 3]]}, "legend": null},
      "strokeWidth": {"field": "s", "type": "nominal", "scale": {"type": "ordinal", "domain": ["w", "wo"], "range": [3, 2]}, "legend": null}
     }},
    {"mark": {"type": "point", "opacity": 0},
     "encoding": {
      "x": {"field": "x", "type": "quantitative", "scale": {"domain": [0, 20]}, "axis": {"orient": "bottom", "values": [0, 2.5, 5, 7.5, 10, 12.5, 15, 17.5, 20], "labels": false, "tickSize": -11, "tickWidth": 1.5, "title": null}},
      "y": {"field": "y", "type": "quantitative", "scale": {"type": "log", "domain": [0.01, 1000]}, "axis": {"orient": "left", "values": [0.01, 0.1, 1, 10, 100, 1000], "labels": false, "tickSize": -18, "tickWidth": 1.5, "title": null}}
     }},
    {"mark": {"type": "point", "opacity": 0},
     "encoding": {
      "x": {"field": "x", "type": "quantitative", "scale": {"domain": [0, 20]}, "axis": {"orient": "top", "values": [0, 2.5, 5, 7.5, 10, 12.5, 15, 17.5, 20], "labels": false, "tickSize": -11, "tickWidth": 1.5, "title": null}},
      "y": {"field": "y", "type": "quantitative", "scale": {"type": "log", "domain": [0.01, 1000]}, "axis": {"orient": "right", "values": [0.01, 0.1, 1, 10, 100, 1000], "labels": false, "tickSize": -18, "tickWidth": 1.5, "title": null}}
     }},
    {"mark": {"type": "point", "opacity": 0},
     "encoding": {
      "x": {"field": "x", "type": "quantitative", "scale": {"domain": [0, 20]}, "axis": null},
      "y": {"field": "y", "type": "quantitative", "scale": {"type": "log", "domain": [0.01, 1000]}, "axis": {"orient": "left", "values": [0.02,0.03,0.04,0.05,0.06,0.07,0.08,0.09,0.2,0.3,0.4,0.5,0.6,0.7,0.8,0.9,2,3,4,5,6,7,8,9,20,30,40,50,60,70,80,90,200,300,400,500,600,700,800,900], "labels": false, "tickSize": -8, "tickWidth": 1, "title": null}}
     }},
    {"mark": {"type": "point", "opacity": 0},
     "encoding": {
      "x": {"field": "x", "type": "quantitative", "scale": {"domain": [0, 20]}, "axis": null},
      "y": {"field": "y", "type": "quantitative", "scale": {"type": "log", "domain": [0.01, 1000]}, "axis": {"orient": "right", "values": [0.02,0.03,0.04,0.05,0.06,0.07,0.08,0.09,0.2,0.3,0.4,0.5,0.6,0.7,0.8,0.9,2,3,4,5,6,7,8,9,20,30,40,50,60,70,80,90,200,300,400,500,600,700,800,900], "labels": false, "tickSize": -8, "tickWidth": 1, "title": null}}
     }}
   ],
   "resolve": {"axis": {"x": "independent", "y": "independent"}}
  }
 ]
},
{
 "title": {"text": "λ = 5", "orient": "right", "frame": "bounds", "anchor": "middle", "offset": 33, "fontSize": 23, "dx": -44},
 "spacing": 56, "bounds": "flush",
 "resolve": {"scale": {"color": "independent", "strokeDash": "independent", "strokeWidth": "independent"}},
 "hconcat": [
  {"width": 278, "height": 303,
   "data": {"name": "d"}, "transform": [{"filter": "datum.p == 'd'"}],
   "layer": [
    {"mark": {"type": "line", "interpolate": "monotone", "clip": true},
     "encoding": {
      "x": {"field": "x", "type": "quantitative", "scale": {"domain": [0, 20]}, "axis": {"orient": "bottom", "values": [0, 5, 10, 15, 20], "ticks": false, "labelPadding": 7, "title": "eV (ħω₀)", "titlePadding": 3}},
      "y": {"field": "y", "type": "quantitative", "scale": {"type": "log", "domain": [0.01, 31000]}, "axis": {"orient": "left", "values": [0.01, 1, 100, 10000], "ticks": false, "labelPadding": 7, "labelExpr": "datum.value > 5000 ? '10⁴' : datum.value > 50 ? '10²' : datum.value > 0.5 ? '1' : '10⁻²'", "title": "Fₑₓ", "titlePadding": 12}},
      "color": {"field": "s", "type": "nominal", "scale": {"domain": ["w", "wo"], "range": ["#000000", "#0000ff"]}, "legend": null},
      "strokeDash": {"field": "s", "type": "nominal", "scale": {"domain": ["w", "wo"], "range": [[1, 0], [5, 3]]}, "legend": null},
      "strokeWidth": {"field": "s", "type": "nominal", "scale": {"type": "ordinal", "domain": ["w", "wo"], "range": [3, 2]}, "legend": null}
     }},
    {"mark": {"type": "point", "opacity": 0},
     "encoding": {
      "x": {"field": "x", "type": "quantitative", "scale": {"domain": [0, 20]}, "axis": {"orient": "bottom", "values": [0, 2.5, 5, 7.5, 10, 12.5, 15, 17.5, 20], "labels": false, "tickSize": -11, "tickWidth": 1.5, "title": null}},
      "y": {"field": "y", "type": "quantitative", "scale": {"type": "log", "domain": [0.01, 31000]}, "axis": {"orient": "left", "values": [0.01, 1, 100, 10000], "labels": false, "tickSize": -18, "tickWidth": 1.5, "title": null}}
     }},
    {"mark": {"type": "point", "opacity": 0},
     "encoding": {
      "x": {"field": "x", "type": "quantitative", "scale": {"domain": [0, 20]}, "axis": {"orient": "top", "values": [0, 2.5, 5, 7.5, 10, 12.5, 15, 17.5, 20], "labels": false, "tickSize": -11, "tickWidth": 1.5, "title": null}},
      "y": {"field": "y", "type": "quantitative", "scale": {"type": "log", "domain": [0.01, 31000]}, "axis": {"orient": "right", "values": [0.01, 1, 100, 10000], "labels": false, "tickSize": -18, "tickWidth": 1.5, "title": null}}
     }},
    {"mark": {"type": "point", "opacity": 0},
     "encoding": {
      "x": {"field": "x", "type": "quantitative", "scale": {"domain": [0, 20]}, "axis": null},
      "y": {"field": "y", "type": "quantitative", "scale": {"type": "log", "domain": [0.01, 31000]}, "axis": {"orient": "left", "values": [0.02,0.03,0.04,0.05,0.06,0.07,0.08,0.09,0.1,2,3,4,5,6,7,8,9,10,200,300,400,500,600,700,800,900,1000,20000,30000], "labels": false, "tickSize": -8, "tickWidth": 1, "title": null}}
     }},
    {"mark": {"type": "point", "opacity": 0},
     "encoding": {
      "x": {"field": "x", "type": "quantitative", "scale": {"domain": [0, 20]}, "axis": null},
      "y": {"field": "y", "type": "quantitative", "scale": {"type": "log", "domain": [0.01, 31000]}, "axis": {"orient": "right", "values": [0.02,0.03,0.04,0.05,0.06,0.07,0.08,0.09,0.1,2,3,4,5,6,7,8,9,10,200,300,400,500,600,700,800,900,1000,20000,30000], "labels": false, "tickSize": -8, "tickWidth": 1, "title": null}}
     }}
   ],
   "resolve": {"axis": {"x": "independent", "y": "independent"}}
  },
  {"width": 278, "height": 303,
   "data": {"name": "d"}, "transform": [{"filter": "datum.p == 'e'"}],
   "layer": [
    {"mark": {"type": "line", "interpolate": "monotone", "clip": true},
     "encoding": {
      "x": {"field": "x", "type": "quantitative", "scale": {"domain": [0, 20]}, "axis": {"orient": "bottom", "values": [0, 5, 10, 15, 20], "ticks": false, "labelPadding": 7, "title": "eV (ħω₀)", "titlePadding": 3}},
      "y": {"field": "y", "type": "quantitative", "scale": {"type": "log", "domain": [0.01, 31000]}, "axis": {"orient": "left", "values": [1, 100, 10000], "ticks": false, "labelPadding": 7, "labelExpr": "datum.value > 5000 ? '10⁴' : datum.value > 50 ? '10²' : datum.value > 0.5 ? '1' : '10⁻²'", "title": null}},
      "color": {"field": "s", "type": "nominal", "scale": {"domain": ["w", "wo"], "range": ["#000000", "#0000ff"]}, "legend": null},
      "strokeDash": {"field": "s", "type": "nominal", "scale": {"domain": ["w", "wo"], "range": [[1, 0], [5, 3]]}, "legend": null},
      "strokeWidth": {"field": "s", "type": "nominal", "scale": {"type": "ordinal", "domain": ["w", "wo"], "range": [3, 2]}, "legend": null}
     }},
    {"mark": {"type": "point", "opacity": 0},
     "encoding": {
      "x": {"field": "x", "type": "quantitative", "scale": {"domain": [0, 20]}, "axis": {"orient": "bottom", "values": [0, 2.5, 5, 7.5, 10, 12.5, 15, 17.5, 20], "labels": false, "tickSize": -11, "tickWidth": 1.5, "title": null}},
      "y": {"field": "y", "type": "quantitative", "scale": {"type": "log", "domain": [0.01, 31000]}, "axis": {"orient": "left", "values": [0.01, 1, 100, 10000], "labels": false, "tickSize": -18, "tickWidth": 1.5, "title": null}}
     }},
    {"mark": {"type": "point", "opacity": 0},
     "encoding": {
      "x": {"field": "x", "type": "quantitative", "scale": {"domain": [0, 20]}, "axis": {"orient": "top", "values": [0, 2.5, 5, 7.5, 10, 12.5, 15, 17.5, 20], "labels": false, "tickSize": -11, "tickWidth": 1.5, "title": null}},
      "y": {"field": "y", "type": "quantitative", "scale": {"type": "log", "domain": [0.01, 31000]}, "axis": {"orient": "right", "values": [0.01, 1, 100, 10000], "labels": false, "tickSize": -18, "tickWidth": 1.5, "title": null}}
     }},
    {"mark": {"type": "point", "opacity": 0},
     "encoding": {
      "x": {"field": "x", "type": "quantitative", "scale": {"domain": [0, 20]}, "axis": null},
      "y": {"field": "y", "type": "quantitative", "scale": {"type": "log", "domain": [0.01, 31000]}, "axis": {"orient": "left", "values": [0.02,0.03,0.04,0.05,0.06,0.07,0.08,0.09,0.1,2,3,4,5,6,7,8,9,10,200,300,400,500,600,700,800,900,1000,20000,30000], "labels": false, "tickSize": -8, "tickWidth": 1, "title": null}}
     }},
    {"mark": {"type": "point", "opacity": 0},
     "encoding": {
      "x": {"field": "x", "type": "quantitative", "scale": {"domain": [0, 20]}, "axis": null},
      "y": {"field": "y", "type": "quantitative", "scale": {"type": "log", "domain": [0.01, 31000]}, "axis": {"orient": "right", "values": [0.02,0.03,0.04,0.05,0.06,0.07,0.08,0.09,0.1,2,3,4,5,6,7,8,9,10,200,300,400,500,600,700,800,900,1000,20000,30000], "labels": false, "tickSize": -8, "tickWidth": 1, "title": null}}
     }}
   ],
   "resolve": {"axis": {"x": "independent", "y": "independent"}}
  },
  {"width": 278, "height": 303,
   "data": {"name": "d"}, "transform": [{"filter": "datum.p == 'f'"}],
   "layer": [
    {"mark": {"type": "line", "interpolate": "monotone", "clip": true},
     "encoding": {
      "x": {"field": "x", "type": "quantitative", "scale": {"domain": [0, 20]}, "axis": {"orient": "bottom", "values": [0, 5, 10, 15, 20], "ticks": false, "labelPadding": 7, "title": "eV (ħω₀)", "titlePadding": 3}},
      "y": {"field": "y", "type": "quantitative", "scale": {"type": "log", "domain": [0.01, 31000]}, "axis": {"orient": "left", "values": [1, 100, 10000], "ticks": false, "labelPadding": 7, "labelExpr": "datum.value > 5000 ? '10⁴' : datum.value > 50 ? '10²' : datum.value > 0.5 ? '1' : '10⁻²'", "title": null}},
      "color": {"field": "s", "type": "nominal", "scale": {"domain": ["w", "wo"], "range": ["#000000", "#0000ff"]}, "legend": null},
      "strokeDash": {"field": "s", "type": "nominal", "scale": {"domain": ["w", "wo"], "range": [[1, 0], [5, 3]]}, "legend": null},
      "strokeWidth": {"field": "s", "type": "nominal", "scale": {"type": "ordinal", "domain": ["w", "wo"], "range": [3, 2]}, "legend": null}
     }},
    {"mark": {"type": "point", "opacity": 0},
     "encoding": {
      "x": {"field": "x", "type": "quantitative", "scale": {"domain": [0, 20]}, "axis": {"orient": "bottom", "values": [0, 2.5, 5, 7.5, 10, 12.5, 15, 17.5, 20], "labels": false, "tickSize": -11, "tickWidth": 1.5, "title": null}},
      "y": {"field": "y", "type": "quantitative", "scale": {"type": "log", "domain": [0.01, 31000]}, "axis": {"orient": "left", "values": [0.01, 1, 100, 10000], "labels": false, "tickSize": -18, "tickWidth": 1.5, "title": null}}
     }},
    {"mark": {"type": "point", "opacity": 0},
     "encoding": {
      "x": {"field": "x", "type": "quantitative", "scale": {"domain": [0, 20]}, "axis": {"orient": "top", "values": [0, 2.5, 5, 7.5, 10, 12.5, 15, 17.5, 20], "labels": false, "tickSize": -11, "tickWidth": 1.5, "title": null}},
      "y": {"field": "y", "type": "quantitative", "scale": {"type": "log", "domain": [0.01, 31000]}, "axis": {"orient": "right", "values": [0.01, 1, 100, 10000], "labels": false, "tickSize": -18, "tickWidth": 1.5, "title": null}}
     }},
    {"mark": {"type": "point", "opacity": 0},
     "encoding": {
      "x": {"field": "x", "type": "quantitative", "scale": {"domain": [0, 20]}, "axis": null},
      "y": {"field": "y", "type": "quantitative", "scale": {"type": "log", "domain": [0.01, 31000]}, "axis": {"orient": "left", "values": [0.02,0.03,0.04,0.05,0.06,0.07,0.08,0.09,0.1,2,3,4,5,6,7,8,9,10,200,300,400,500,600,700,800,900,1000,20000,30000], "labels": false, "tickSize": -8, "tickWidth": 1, "title": null}}
     }},
    {"mark": {"type": "point", "opacity": 0},
     "encoding": {
      "x": {"field": "x", "type": "quantitative", "scale": {"domain": [0, 20]}, "axis": null},
      "y": {"field": "y", "type": "quantitative", "scale": {"type": "log", "domain": [0.01, 31000]}, "axis": {"orient": "right", "values": [0.02,0.03,0.04,0.05,0.06,0.07,0.08,0.09,0.1,2,3,4,5,6,7,8,9,10,200,300,400,500,600,700,800,900,1000,20000,30000], "labels": false, "tickSize": -8, "tickWidth": 1, "title": null}}
     }}
   ],
   "resolve": {"axis": {"x": "independent", "y": "independent"}}
  }
 ]
}
]
}
